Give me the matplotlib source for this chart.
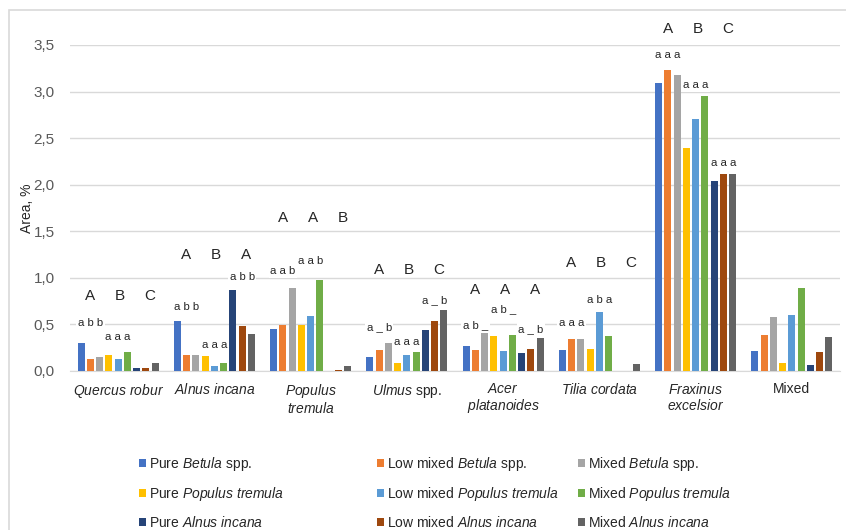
import matplotlib
matplotlib.use("Agg")
import matplotlib.pyplot as plt
from matplotlib.patches import Rectangle, Patch
import numpy as np

plt.rcParams['font.family'] = ['Liberation Sans', 'DejaVu Sans']
plt.rcParams['mathtext.fontset'] = 'custom'
plt.rcParams['mathtext.rm'] = 'Liberation Sans'
plt.rcParams['mathtext.it'] = 'Liberation Sans:italic'

categories = [r"$\mathit{Quercus\ robur}$", r"$\mathit{Alnus\ incana}$",
              "$\\mathit{Populus}$\n$\\mathit{tremula}$", r"$\mathit{Ulmus}$ spp.",
              "$\\mathit{Acer}$\n$\\mathit{platanoides}$", r"$\mathit{Tilia\ cordata}$",
              "$\\mathit{Fraxinus}$\n$\\mathit{excelsior}$", "Mixed"]

series_names = [r"Pure $\mathit{Betula}$ spp.", r"Low mixed $\mathit{Betula}$ spp.",
                r"Mixed $\mathit{Betula}$ spp.",
                r"Pure $\mathit{Populus\ tremula}$", r"Low mixed $\mathit{Populus\ tremula}$",
                r"Mixed $\mathit{Populus\ tremula}$",
                r"Pure $\mathit{Alnus\ incana}$", r"Low mixed $\mathit{Alnus\ incana}$",
                r"Mixed $\mathit{Alnus\ incana}$"]

colors = ["#4472C4", "#ED7D31", "#A5A5A5", "#FFC000", "#5B9BD5",
          "#70AD47", "#264478", "#9E480E", "#636363"]

pure_betula      = [0.30, 0.54, 0.45, 0.15, 0.27, 0.23, 3.09, 0.21]
lowmix_betula    = [0.13, 0.17, 0.49, 0.23, 0.23, 0.34, 3.23, 0.39]
mixed_betula     = [0.15, 0.17, 0.89, 0.30, 0.41, 0.34, 3.18, 0.58]
pure_populus     = [0.17, 0.16, 0.49, 0.09, 0.38, 0.24, 2.39, 0.09]
lowmix_populus   = [0.13, 0.05, 0.59, 0.17, 0.22, 0.63, 2.71, 0.60]
mixed_populus    = [0.20, 0.09, 0.98, 0.20, 0.39, 0.38, 2.95, 0.89]
pure_alnus       = [0.03, 0.87, 0.00, 0.44, 0.19, 0.00, 2.04, 0.06]
lowmix_alnus     = [0.03, 0.48, 0.01, 0.54, 0.24, 0.00, 2.12, 0.20]
mixed_alnus      = [0.09, 0.40, 0.05, 0.65, 0.35, 0.07, 2.12, 0.37]

series = [pure_betula, lowmix_betula, mixed_betula, pure_populus, lowmix_populus,
          mixed_populus, pure_alnus, lowmix_alnus, mixed_alnus]

# Group significance letters (uppercase), per category
upper_letters = [["A", "B", "C"], ["A", "B", "A"], ["A", "A", "B"], ["A", "B", "C"],
                 ["A", "A", "A"], ["A", "B", "C"], ["A", "B", "C"], None]
upper_y = [0.81, 1.25, 1.64, 1.08, 0.87, 1.16, 3.67, None]

# lowercase letters per triplet: (category, triplet, text, y)
lower_labels = [
    (0, 0, "a b b", 0.52), (0, 1, "a a a", 0.36),
    (1, 0, "a b b", 0.69), (1, 1, "a a a", 0.28), (1, 2, "a b b", 1.01),
    (2, 0, "a a b", 1.07), (2, 1, "a a b", 1.18),
    (3, 0, "a _ b", 0.47), (3, 1, "a a a", 0.31), (3, 2, "a _ b", 0.76),
    (4, 0, "a b _", 0.49), (4, 1, "a b _", 0.66), (4, 2, "a _ b", 0.45),
    (5, 0, "a a a", 0.52), (5, 1, "a b a", 0.76),
    (6, 0, "a a a", 3.39), (6, 1, "a a a", 3.07), (6, 2, "a a a", 2.23),
]

W, H = 846, 530
fig = plt.figure(figsize=(W / 100, H / 100), dpi=100)
ax = fig.add_axes([70 / W, 1 - 371 / H, (840 - 70) / W, (371 - 45) / H])

x = np.arange(len(categories))
pitch = 0.096
width = 0.074
for i, (vals, c) in enumerate(zip(series, colors)):
    ax.bar(x + (i - 4) * pitch, vals, width=width, color=c, zorder=3)

ax.set_xlim(-0.5, len(categories) - 0.5)
ax.set_ylim(0, 3.5)
ax.set_yticks(np.arange(0, 3.51, 0.5))
ax.set_yticklabels([f"{v:.1f}".replace(".", ",") for v in np.arange(0, 3.51, 0.5)])
ax.set_xticks(x)
ax.set_xticklabels(categories, fontsize=10, color="#262626", linespacing=1.1, va="top")
ax.tick_params(axis="y", length=0, pad=11, labelsize=11, labelcolor="#595959")
ax.tick_params(axis="x", length=0, pad=8)
ax.grid(axis="y", color="#d9d9d9", linewidth=1, zorder=0)
for s in ["top", "right", "left"]:
    ax.spines[s].set_visible(False)
ax.spines["bottom"].set_color("#d9d9d9")
ax.set_ylabel("Area, %", fontsize=10, color="#262626", labelpad=0)

for ci, (letters, yy) in enumerate(zip(upper_letters, upper_y)):
    if letters is None:
        continue
    for k, L in enumerate(letters):
        ax.text(ci + (k - 1) * 0.31 + 0.02, yy, L, ha="center", va="center",
                fontsize=11, color="#262626", clip_on=False, zorder=5)

for ci, t, txt, yy in lower_labels:
    ax.text(ci + (3 * t + 1 - 4) * pitch, yy, txt, ha="center", va="center",
            fontsize=8.2, color="#262626", zorder=2.5, clip_on=False,
            bbox=dict(facecolor="white", edgecolor="none", pad=1.2))

# Legends: three columns placed separately
col_x = [139 / W, 377 / W, 578 / W]
for col in range(3):
    idx = [col, col + 3, col + 6]
    handles = [Patch(facecolor=colors[i], edgecolor="none") for i in idx]
    labels = [series_names[i] for i in idx]
    leg = fig.legend(handles, labels, loc="upper left",
                     bbox_to_anchor=(col_x[col], 1 - 455 / H),
                     frameon=False, fontsize=10, handlelength=0.5, handleheight=0.5,
                     handletextpad=0.25, labelspacing=0.85, borderpad=0, borderaxespad=0)
    for t in leg.get_texts():
        t.set_color("#262626")

# Chart border
fig.patches.append(Rectangle((9 / W, -0.1), 1.2, 1 - 10 / H + 0.1, transform=fig.transFigure,
                             fill=False, edgecolor="#d9d9d9", linewidth=1.2))

fig.savefig("out.png", dpi=100)
